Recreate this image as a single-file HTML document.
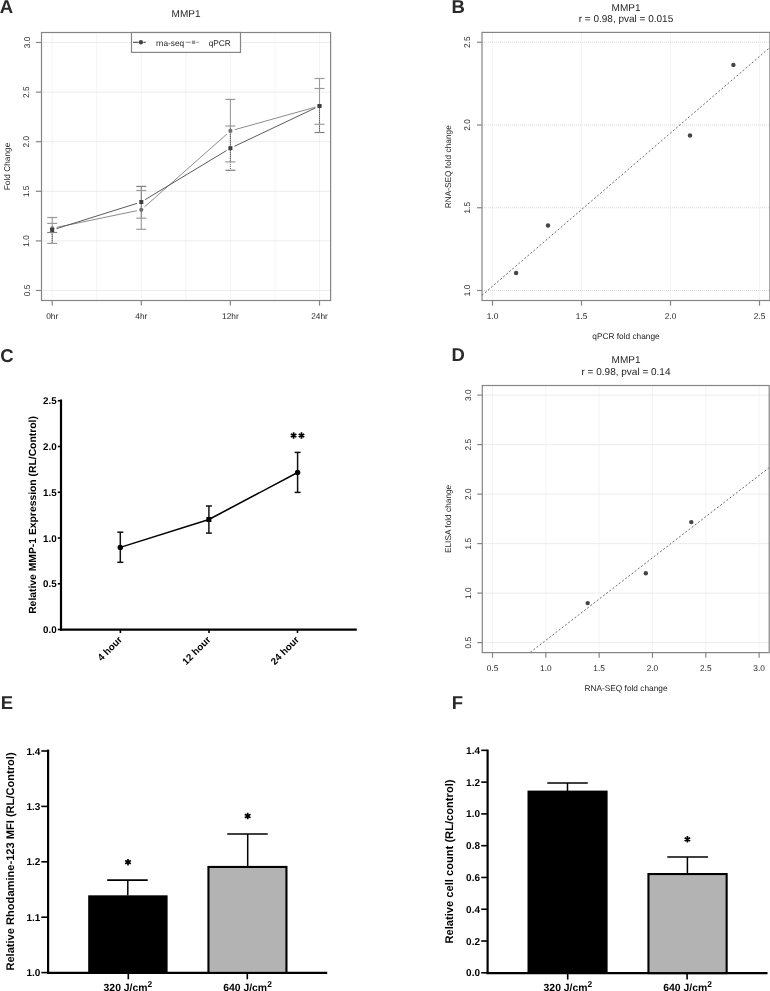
<!DOCTYPE html>
<html><head><meta charset="utf-8"><style>
html,body{margin:0;padding:0;background:#fff;width:770px;height:991px;overflow:hidden}
svg{display:block;will-change:transform}
text{font-family:"Liberation Sans",sans-serif;text-rendering:geometricPrecision}
</style></head><body>
<svg width="770" height="991" viewBox="0 0 770 991" shape-rendering="auto">
<text x="-0.30" y="13.30" font-size="18.5" text-anchor="start" fill="#2a2a2a" font-weight="bold" >A</text>
<text x="451.60" y="13.00" font-size="18.5" text-anchor="start" fill="#2a2a2a" font-weight="bold" >B</text>
<text x="0.20" y="361.50" font-size="18.5" text-anchor="start" fill="#2a2a2a" font-weight="bold" >C</text>
<text x="451.60" y="361.30" font-size="18.5" text-anchor="start" fill="#2a2a2a" font-weight="bold" >D</text>
<text x="0.80" y="709.30" font-size="18.5" text-anchor="start" fill="#2a2a2a" font-weight="bold" >E</text>
<text x="451.80" y="709.30" font-size="18.5" text-anchor="start" fill="#2a2a2a" font-weight="bold" >F</text>
<line x1="52.20" y1="32.50" x2="52.20" y2="300.50" stroke="#e6e6e6" stroke-width="0.9" stroke-dasharray="1 1"/>
<line x1="96.75" y1="32.50" x2="96.75" y2="300.50" stroke="#e6e6e6" stroke-width="0.9" stroke-dasharray="1 1"/>
<line x1="141.30" y1="32.50" x2="141.30" y2="300.50" stroke="#e6e6e6" stroke-width="0.9" stroke-dasharray="1 1"/>
<line x1="185.85" y1="32.50" x2="185.85" y2="300.50" stroke="#e6e6e6" stroke-width="0.9" stroke-dasharray="1 1"/>
<line x1="230.40" y1="32.50" x2="230.40" y2="300.50" stroke="#e6e6e6" stroke-width="0.9" stroke-dasharray="1 1"/>
<line x1="274.95" y1="32.50" x2="274.95" y2="300.50" stroke="#e6e6e6" stroke-width="0.9" stroke-dasharray="1 1"/>
<line x1="319.50" y1="32.50" x2="319.50" y2="300.50" stroke="#e6e6e6" stroke-width="0.9" stroke-dasharray="1 1"/>
<line x1="41.50" y1="290.50" x2="330.60" y2="290.50" stroke="#d6d6d6" stroke-width="0.9" stroke-dasharray="1 1"/>
<line x1="41.50" y1="240.90" x2="330.60" y2="240.90" stroke="#d6d6d6" stroke-width="0.9" stroke-dasharray="1 1"/>
<line x1="41.50" y1="191.30" x2="330.60" y2="191.30" stroke="#d6d6d6" stroke-width="0.9" stroke-dasharray="1 1"/>
<line x1="41.50" y1="141.70" x2="330.60" y2="141.70" stroke="#d6d6d6" stroke-width="0.9" stroke-dasharray="1 1"/>
<line x1="41.50" y1="92.10" x2="330.60" y2="92.10" stroke="#d6d6d6" stroke-width="0.9" stroke-dasharray="1 1"/>
<line x1="41.50" y1="42.50" x2="330.60" y2="42.50" stroke="#d6d6d6" stroke-width="0.9" stroke-dasharray="1 1"/>
<rect x="41.5" y="32.5" width="289.10" height="268.00" fill="none" stroke="#858585" stroke-width="1.2"/>
<line x1="35.80" y1="290.50" x2="41.50" y2="290.50" stroke="#858585" stroke-width="1.2" />
<text x="29.50" y="290.50" font-size="8.3" text-anchor="middle" fill="#1e1e1e" font-weight="normal" transform="rotate(-90 29.50 290.50)" >0.5</text>
<line x1="35.80" y1="240.90" x2="41.50" y2="240.90" stroke="#858585" stroke-width="1.2" />
<text x="29.50" y="240.90" font-size="8.3" text-anchor="middle" fill="#1e1e1e" font-weight="normal" transform="rotate(-90 29.50 240.90)" >1.0</text>
<line x1="35.80" y1="191.30" x2="41.50" y2="191.30" stroke="#858585" stroke-width="1.2" />
<text x="29.50" y="191.30" font-size="8.3" text-anchor="middle" fill="#1e1e1e" font-weight="normal" transform="rotate(-90 29.50 191.30)" >1.5</text>
<line x1="35.80" y1="141.70" x2="41.50" y2="141.70" stroke="#858585" stroke-width="1.2" />
<text x="29.50" y="141.70" font-size="8.3" text-anchor="middle" fill="#1e1e1e" font-weight="normal" transform="rotate(-90 29.50 141.70)" >2.0</text>
<line x1="35.80" y1="92.10" x2="41.50" y2="92.10" stroke="#858585" stroke-width="1.2" />
<text x="29.50" y="92.10" font-size="8.3" text-anchor="middle" fill="#1e1e1e" font-weight="normal" transform="rotate(-90 29.50 92.10)" >2.5</text>
<line x1="35.80" y1="42.50" x2="41.50" y2="42.50" stroke="#858585" stroke-width="1.2" />
<text x="29.50" y="42.50" font-size="8.3" text-anchor="middle" fill="#1e1e1e" font-weight="normal" transform="rotate(-90 29.50 42.50)" >3.0</text>
<line x1="52.20" y1="300.50" x2="52.20" y2="305.60" stroke="#858585" stroke-width="1.2" />
<text x="52.20" y="318.70" font-size="8.3" text-anchor="middle" fill="#1e1e1e" font-weight="normal" >0hr</text>
<line x1="141.30" y1="300.50" x2="141.30" y2="305.60" stroke="#858585" stroke-width="1.2" />
<text x="141.30" y="318.70" font-size="8.3" text-anchor="middle" fill="#1e1e1e" font-weight="normal" >4hr</text>
<line x1="230.40" y1="300.50" x2="230.40" y2="305.60" stroke="#858585" stroke-width="1.2" />
<text x="230.40" y="318.70" font-size="8.3" text-anchor="middle" fill="#1e1e1e" font-weight="normal" >12hr</text>
<line x1="319.50" y1="300.50" x2="319.50" y2="305.60" stroke="#858585" stroke-width="1.2" />
<text x="319.50" y="318.70" font-size="8.3" text-anchor="middle" fill="#1e1e1e" font-weight="normal" >24hr</text>
<text x="186.00" y="16.70" font-size="10" text-anchor="middle" fill="#222" font-weight="normal" >MMP1</text>
<text x="9.80" y="166.50" font-size="8.3" text-anchor="middle" fill="#1e1e1e" font-weight="normal" transform="rotate(-90 9.80 166.50)" >Fold Change</text>
<rect x="131.5" y="32.5" width="109" height="19.9" fill="#fff" stroke="#858585" stroke-width="1.2"/>
<line x1="133.10" y1="42.30" x2="138.40" y2="42.30" stroke="#444" stroke-width="1.1" />
<line x1="143.40" y1="42.30" x2="145.80" y2="42.30" stroke="#444" stroke-width="1.1" />
<circle cx="140.9" cy="42.3" r="2.2" fill="#444"/>
<text x="156.00" y="45.60" font-size="8.3" text-anchor="start" fill="#1e1e1e" font-weight="normal" >rna-seq</text>
<line x1="185.70" y1="42.30" x2="190.80" y2="42.30" stroke="#999" stroke-width="1.1" />
<line x1="196.40" y1="42.30" x2="198.80" y2="42.30" stroke="#999" stroke-width="1.1" />
<rect x="191.9" y="40.6" width="3.4" height="3.4" fill="#999"/>
<text x="208.70" y="45.60" font-size="8.3" text-anchor="start" fill="#1e1e1e" font-weight="normal" >qPCR</text>
<line x1="52.20" y1="217.50" x2="52.20" y2="243.40" stroke="#9a9a9a" stroke-width="1.1" />
<line x1="52.20" y1="230.00" x2="52.20" y2="243.40" stroke="#666" stroke-width="1" stroke-dasharray="1 1"/>
<line x1="47.20" y1="217.50" x2="57.20" y2="217.50" stroke="#9a9a9a" stroke-width="1.2" />
<line x1="47.20" y1="223.40" x2="57.20" y2="223.40" stroke="#9a9a9a" stroke-width="1.2" />
<line x1="47.20" y1="232.50" x2="57.20" y2="232.50" stroke="#808080" stroke-width="1.2" />
<line x1="47.20" y1="243.40" x2="57.20" y2="243.40" stroke="#9a9a9a" stroke-width="1.2" />
<line x1="141.30" y1="186.40" x2="141.30" y2="229.30" stroke="#9a9a9a" stroke-width="1.1" />
<line x1="141.30" y1="186.40" x2="141.30" y2="218.20" stroke="#666" stroke-width="1" stroke-dasharray="1 1"/>
<line x1="136.30" y1="186.40" x2="146.30" y2="186.40" stroke="#808080" stroke-width="1.2" />
<line x1="136.30" y1="190.50" x2="146.30" y2="190.50" stroke="#9a9a9a" stroke-width="1.2" />
<line x1="136.30" y1="218.20" x2="146.30" y2="218.20" stroke="#9a9a9a" stroke-width="1.2" />
<line x1="136.30" y1="229.30" x2="146.30" y2="229.30" stroke="#9a9a9a" stroke-width="1.2" />
<line x1="230.40" y1="99.40" x2="230.40" y2="161.90" stroke="#9a9a9a" stroke-width="1.1" />
<line x1="230.40" y1="126.00" x2="230.40" y2="170.30" stroke="#666" stroke-width="1" stroke-dasharray="1 1"/>
<line x1="225.40" y1="99.40" x2="235.40" y2="99.40" stroke="#9a9a9a" stroke-width="1.2" />
<line x1="225.40" y1="126.00" x2="235.40" y2="126.00" stroke="#9a9a9a" stroke-width="1.2" />
<line x1="225.40" y1="161.90" x2="235.40" y2="161.90" stroke="#9a9a9a" stroke-width="1.2" />
<line x1="225.40" y1="170.30" x2="235.40" y2="170.30" stroke="#808080" stroke-width="1.2" />
<line x1="319.50" y1="78.50" x2="319.50" y2="132.50" stroke="#9a9a9a" stroke-width="1.1" />
<line x1="319.50" y1="106.00" x2="319.50" y2="132.50" stroke="#666" stroke-width="1" stroke-dasharray="1 1"/>
<line x1="314.50" y1="78.50" x2="324.50" y2="78.50" stroke="#9a9a9a" stroke-width="1.2" />
<line x1="314.50" y1="88.50" x2="324.50" y2="88.50" stroke="#9a9a9a" stroke-width="1.2" />
<line x1="314.50" y1="124.30" x2="324.50" y2="124.30" stroke="#9a9a9a" stroke-width="1.2" />
<line x1="314.50" y1="132.50" x2="324.50" y2="132.50" stroke="#808080" stroke-width="1.2" />
<line x1="56.61" y1="227.39" x2="136.89" y2="210.71" stroke="#8c8c8c" stroke-width="1" />
<line x1="56.49" y1="228.65" x2="137.01" y2="203.35" stroke="#5a5a5a" stroke-width="1" />
<line x1="144.67" y1="206.82" x2="227.03" y2="133.88" stroke="#8c8c8c" stroke-width="1" />
<line x1="145.15" y1="199.67" x2="226.55" y2="150.53" stroke="#5a5a5a" stroke-width="1" />
<line x1="234.73" y1="129.69" x2="315.17" y2="107.21" stroke="#8c8c8c" stroke-width="1" />
<line x1="234.47" y1="146.27" x2="315.43" y2="107.93" stroke="#5a5a5a" stroke-width="1" />
<circle cx="52.2" cy="228.3" r="2.1" fill="#6e6e6e"/>
<circle cx="141.3" cy="209.8" r="2.1" fill="#6e6e6e"/>
<circle cx="230.4" cy="130.9" r="2.1" fill="#6e6e6e"/>
<circle cx="319.5" cy="106" r="2.1" fill="#6e6e6e"/>
<rect x="50.20" y="228.00" width="4" height="4" fill="#3e3e3e"/>
<rect x="139.30" y="200.00" width="4" height="4" fill="#3e3e3e"/>
<rect x="228.40" y="146.20" width="4" height="4" fill="#3e3e3e"/>
<rect x="317.50" y="104.00" width="4" height="4" fill="#3e3e3e"/>
<line x1="492.50" y1="32.40" x2="492.50" y2="300.50" stroke="#e6e6e6" stroke-width="0.9" stroke-dasharray="1 1"/>
<line x1="482.00" y1="290.50" x2="769.90" y2="290.50" stroke="#d6d6d6" stroke-width="0.9" stroke-dasharray="1 1"/>
<line x1="581.50" y1="32.40" x2="581.50" y2="300.50" stroke="#e6e6e6" stroke-width="0.9" stroke-dasharray="1 1"/>
<line x1="482.00" y1="207.75" x2="769.90" y2="207.75" stroke="#d6d6d6" stroke-width="0.9" stroke-dasharray="1 1"/>
<line x1="670.50" y1="32.40" x2="670.50" y2="300.50" stroke="#e6e6e6" stroke-width="0.9" stroke-dasharray="1 1"/>
<line x1="482.00" y1="125.00" x2="769.90" y2="125.00" stroke="#d6d6d6" stroke-width="0.9" stroke-dasharray="1 1"/>
<line x1="759.50" y1="32.40" x2="759.50" y2="300.50" stroke="#e6e6e6" stroke-width="0.9" stroke-dasharray="1 1"/>
<line x1="482.00" y1="42.25" x2="769.90" y2="42.25" stroke="#d6d6d6" stroke-width="0.9" stroke-dasharray="1 1"/>
<rect x="482.0" y="32.4" width="287.90" height="268.10" fill="none" stroke="#858585" stroke-width="1.2"/>
<line x1="477.00" y1="290.50" x2="482.00" y2="290.50" stroke="#858585" stroke-width="1.2" />
<text x="470.20" y="290.50" font-size="8.3" text-anchor="middle" fill="#1e1e1e" font-weight="normal" transform="rotate(-90 470.20 290.50)" >1.0</text>
<line x1="492.50" y1="300.50" x2="492.50" y2="305.70" stroke="#858585" stroke-width="1.2" />
<text x="492.50" y="318.70" font-size="8.3" text-anchor="middle" fill="#1e1e1e" font-weight="normal" >1.0</text>
<line x1="477.00" y1="207.75" x2="482.00" y2="207.75" stroke="#858585" stroke-width="1.2" />
<text x="470.20" y="207.75" font-size="8.3" text-anchor="middle" fill="#1e1e1e" font-weight="normal" transform="rotate(-90 470.20 207.75)" >1.5</text>
<line x1="581.50" y1="300.50" x2="581.50" y2="305.70" stroke="#858585" stroke-width="1.2" />
<text x="581.50" y="318.70" font-size="8.3" text-anchor="middle" fill="#1e1e1e" font-weight="normal" >1.5</text>
<line x1="477.00" y1="125.00" x2="482.00" y2="125.00" stroke="#858585" stroke-width="1.2" />
<text x="470.20" y="125.00" font-size="8.3" text-anchor="middle" fill="#1e1e1e" font-weight="normal" transform="rotate(-90 470.20 125.00)" >2.0</text>
<line x1="670.50" y1="300.50" x2="670.50" y2="305.70" stroke="#858585" stroke-width="1.2" />
<text x="670.50" y="318.70" font-size="8.3" text-anchor="middle" fill="#1e1e1e" font-weight="normal" >2.0</text>
<line x1="477.00" y1="42.25" x2="482.00" y2="42.25" stroke="#858585" stroke-width="1.2" />
<text x="470.20" y="42.25" font-size="8.3" text-anchor="middle" fill="#1e1e1e" font-weight="normal" transform="rotate(-90 470.20 42.25)" >2.5</text>
<line x1="759.50" y1="300.50" x2="759.50" y2="305.70" stroke="#858585" stroke-width="1.2" />
<text x="759.50" y="318.70" font-size="8.3" text-anchor="middle" fill="#1e1e1e" font-weight="normal" >2.5</text>
<text x="626.00" y="10.50" font-size="10" text-anchor="middle" fill="#222" font-weight="normal" >MMP1</text>
<text x="626.00" y="22.00" font-size="10" text-anchor="middle" fill="#222" font-weight="normal" >r = 0.98, pval = 0.015</text>
<text x="450.80" y="166.75" font-size="8.3" text-anchor="middle" fill="#1e1e1e" font-weight="normal" transform="rotate(-90 450.80 166.75)" >RNA-SEQ fold change</text>
<text x="626.00" y="339.40" font-size="8.3" text-anchor="middle" fill="#1e1e1e" font-weight="normal" >qPCR fold change</text>
<clipPath id="cb"><rect x="482.0" y="32.4" width="287.9" height="268.1"/></clipPath>
<line x1="482.00" y1="295.30" x2="770.00" y2="47.40" stroke="#6a6a6a" stroke-width="1" stroke-dasharray="2 2" clip-path="url(#cb)"/>
<circle cx="516.1" cy="273" r="2.2" fill="#444"/>
<circle cx="548" cy="225.5" r="2.2" fill="#444"/>
<circle cx="690" cy="135.5" r="2.2" fill="#444"/>
<circle cx="733.4" cy="64.9" r="2.2" fill="#444"/>
<line x1="492.50" y1="385.50" x2="492.50" y2="652.60" stroke="#e6e6e6" stroke-width="0.9" stroke-dasharray="1 1"/>
<line x1="482.30" y1="642.60" x2="769.20" y2="642.60" stroke="#d6d6d6" stroke-width="0.9" stroke-dasharray="1 1"/>
<line x1="545.82" y1="385.50" x2="545.82" y2="652.60" stroke="#e6e6e6" stroke-width="0.9" stroke-dasharray="1 1"/>
<line x1="482.30" y1="593.10" x2="769.20" y2="593.10" stroke="#d6d6d6" stroke-width="0.9" stroke-dasharray="1 1"/>
<line x1="599.14" y1="385.50" x2="599.14" y2="652.60" stroke="#e6e6e6" stroke-width="0.9" stroke-dasharray="1 1"/>
<line x1="482.30" y1="543.60" x2="769.20" y2="543.60" stroke="#d6d6d6" stroke-width="0.9" stroke-dasharray="1 1"/>
<line x1="652.46" y1="385.50" x2="652.46" y2="652.60" stroke="#e6e6e6" stroke-width="0.9" stroke-dasharray="1 1"/>
<line x1="482.30" y1="494.10" x2="769.20" y2="494.10" stroke="#d6d6d6" stroke-width="0.9" stroke-dasharray="1 1"/>
<line x1="705.78" y1="385.50" x2="705.78" y2="652.60" stroke="#e6e6e6" stroke-width="0.9" stroke-dasharray="1 1"/>
<line x1="482.30" y1="444.60" x2="769.20" y2="444.60" stroke="#d6d6d6" stroke-width="0.9" stroke-dasharray="1 1"/>
<line x1="759.10" y1="385.50" x2="759.10" y2="652.60" stroke="#e6e6e6" stroke-width="0.9" stroke-dasharray="1 1"/>
<line x1="482.30" y1="395.10" x2="769.20" y2="395.10" stroke="#d6d6d6" stroke-width="0.9" stroke-dasharray="1 1"/>
<rect x="482.3" y="385.5" width="286.90" height="267.10" fill="none" stroke="#858585" stroke-width="1.2"/>
<line x1="477.30" y1="642.60" x2="482.30" y2="642.60" stroke="#858585" stroke-width="1.2" />
<text x="470.80" y="642.60" font-size="8.3" text-anchor="middle" fill="#1e1e1e" font-weight="normal" transform="rotate(-90 470.80 642.60)" >0.5</text>
<line x1="492.50" y1="652.60" x2="492.50" y2="657.80" stroke="#858585" stroke-width="1.2" />
<text x="492.50" y="670.80" font-size="8.3" text-anchor="middle" fill="#1e1e1e" font-weight="normal" >0.5</text>
<line x1="477.30" y1="593.10" x2="482.30" y2="593.10" stroke="#858585" stroke-width="1.2" />
<text x="470.80" y="593.10" font-size="8.3" text-anchor="middle" fill="#1e1e1e" font-weight="normal" transform="rotate(-90 470.80 593.10)" >1.0</text>
<line x1="545.82" y1="652.60" x2="545.82" y2="657.80" stroke="#858585" stroke-width="1.2" />
<text x="545.82" y="670.80" font-size="8.3" text-anchor="middle" fill="#1e1e1e" font-weight="normal" >1.0</text>
<line x1="477.30" y1="543.60" x2="482.30" y2="543.60" stroke="#858585" stroke-width="1.2" />
<text x="470.80" y="543.60" font-size="8.3" text-anchor="middle" fill="#1e1e1e" font-weight="normal" transform="rotate(-90 470.80 543.60)" >1.5</text>
<line x1="599.14" y1="652.60" x2="599.14" y2="657.80" stroke="#858585" stroke-width="1.2" />
<text x="599.14" y="670.80" font-size="8.3" text-anchor="middle" fill="#1e1e1e" font-weight="normal" >1.5</text>
<line x1="477.30" y1="494.10" x2="482.30" y2="494.10" stroke="#858585" stroke-width="1.2" />
<text x="470.80" y="494.10" font-size="8.3" text-anchor="middle" fill="#1e1e1e" font-weight="normal" transform="rotate(-90 470.80 494.10)" >2.0</text>
<line x1="652.46" y1="652.60" x2="652.46" y2="657.80" stroke="#858585" stroke-width="1.2" />
<text x="652.46" y="670.80" font-size="8.3" text-anchor="middle" fill="#1e1e1e" font-weight="normal" >2.0</text>
<line x1="477.30" y1="444.60" x2="482.30" y2="444.60" stroke="#858585" stroke-width="1.2" />
<text x="470.80" y="444.60" font-size="8.3" text-anchor="middle" fill="#1e1e1e" font-weight="normal" transform="rotate(-90 470.80 444.60)" >2.5</text>
<line x1="705.78" y1="652.60" x2="705.78" y2="657.80" stroke="#858585" stroke-width="1.2" />
<text x="705.78" y="670.80" font-size="8.3" text-anchor="middle" fill="#1e1e1e" font-weight="normal" >2.5</text>
<line x1="477.30" y1="395.10" x2="482.30" y2="395.10" stroke="#858585" stroke-width="1.2" />
<text x="470.80" y="395.10" font-size="8.3" text-anchor="middle" fill="#1e1e1e" font-weight="normal" transform="rotate(-90 470.80 395.10)" >3.0</text>
<line x1="759.10" y1="652.60" x2="759.10" y2="657.80" stroke="#858585" stroke-width="1.2" />
<text x="759.10" y="670.80" font-size="8.3" text-anchor="middle" fill="#1e1e1e" font-weight="normal" >3.0</text>
<text x="626.00" y="363.30" font-size="10" text-anchor="middle" fill="#222" font-weight="normal" >MMP1</text>
<text x="626.00" y="375.30" font-size="10" text-anchor="middle" fill="#222" font-weight="normal" >r = 0.98, pval = 0.14</text>
<text x="451.00" y="518.90" font-size="8.3" text-anchor="middle" fill="#1e1e1e" font-weight="normal" transform="rotate(-90 451.00 518.90)" >ELISA fold change</text>
<text x="626.00" y="691.00" font-size="8.3" text-anchor="middle" fill="#1e1e1e" font-weight="normal" >RNA-SEQ fold change</text>
<clipPath id="cd"><rect x="482.3" y="385.5" width="286.90000000000003" height="267.1"/></clipPath>
<line x1="530.30" y1="652.30" x2="770.00" y2="467.00" stroke="#6a6a6a" stroke-width="1" stroke-dasharray="2 2" clip-path="url(#cd)"/>
<circle cx="587.7" cy="603.1" r="2.2" fill="#444"/>
<circle cx="645.8" cy="573.2" r="2.2" fill="#444"/>
<circle cx="691.3" cy="522.1" r="2.2" fill="#444"/>
<line x1="61.00" y1="399.50" x2="61.00" y2="630.70" stroke="#000" stroke-width="2.2" />
<line x1="59.90" y1="629.70" x2="356.80" y2="629.70" stroke="#000" stroke-width="2.2" />
<line x1="57.80" y1="629.50" x2="61.00" y2="629.50" stroke="#000" stroke-width="1.6" />
<text x="56.60" y="633.00" font-size="9.8" text-anchor="end" fill="#000" font-weight="bold" >0.0</text>
<line x1="57.80" y1="583.75" x2="61.00" y2="583.75" stroke="#000" stroke-width="1.6" />
<text x="56.60" y="587.25" font-size="9.8" text-anchor="end" fill="#000" font-weight="bold" >0.5</text>
<line x1="57.80" y1="538.00" x2="61.00" y2="538.00" stroke="#000" stroke-width="1.6" />
<text x="56.60" y="541.50" font-size="9.8" text-anchor="end" fill="#000" font-weight="bold" >1.0</text>
<line x1="57.80" y1="492.25" x2="61.00" y2="492.25" stroke="#000" stroke-width="1.6" />
<text x="56.60" y="495.75" font-size="9.8" text-anchor="end" fill="#000" font-weight="bold" >1.5</text>
<line x1="57.80" y1="446.50" x2="61.00" y2="446.50" stroke="#000" stroke-width="1.6" />
<text x="56.60" y="450.00" font-size="9.8" text-anchor="end" fill="#000" font-weight="bold" >2.0</text>
<line x1="57.80" y1="400.75" x2="61.00" y2="400.75" stroke="#000" stroke-width="1.6" />
<text x="56.60" y="404.25" font-size="9.8" text-anchor="end" fill="#000" font-weight="bold" >2.5</text>
<line x1="120.40" y1="629.70" x2="120.40" y2="633.00" stroke="#000" stroke-width="1.6" />
<text x="122.60" y="640.40" font-size="9.8" text-anchor="end" fill="#000" font-weight="bold" transform="rotate(-45 122.60 640.40)" >4 hour</text>
<line x1="209.00" y1="629.70" x2="209.00" y2="633.00" stroke="#000" stroke-width="1.6" />
<text x="211.20" y="640.40" font-size="9.8" text-anchor="end" fill="#000" font-weight="bold" transform="rotate(-45 211.20 640.40)" >12 hour</text>
<line x1="297.50" y1="629.70" x2="297.50" y2="633.00" stroke="#000" stroke-width="1.6" />
<text x="299.70" y="640.40" font-size="9.8" text-anchor="end" fill="#000" font-weight="bold" transform="rotate(-45 299.70 640.40)" >24 hour</text>
<text x="36.30" y="515.00" font-size="10.35" text-anchor="middle" fill="#000" font-weight="bold" transform="rotate(-90 36.30 515.00)" >Relative MMP-1 Expression (RL/Control)</text>
<line x1="120.30" y1="532.20" x2="120.30" y2="562.30" stroke="#111" stroke-width="1.5" />
<line x1="117.30" y1="532.20" x2="123.30" y2="532.20" stroke="#111" stroke-width="1.5" />
<line x1="117.30" y1="562.30" x2="123.30" y2="562.30" stroke="#111" stroke-width="1.5" />
<line x1="208.90" y1="506.00" x2="208.90" y2="533.10" stroke="#111" stroke-width="1.5" />
<line x1="205.90" y1="506.00" x2="211.90" y2="506.00" stroke="#111" stroke-width="1.5" />
<line x1="205.90" y1="533.10" x2="211.90" y2="533.10" stroke="#111" stroke-width="1.5" />
<line x1="297.60" y1="452.40" x2="297.60" y2="492.40" stroke="#111" stroke-width="1.5" />
<line x1="294.60" y1="452.40" x2="300.60" y2="452.40" stroke="#111" stroke-width="1.5" />
<line x1="294.60" y1="492.40" x2="300.60" y2="492.40" stroke="#111" stroke-width="1.5" />
<polyline points="120.3,547.4 208.9,519.5 297.6,472.5" fill="none" stroke="#000" stroke-width="1.5"/>
<circle cx="120.3" cy="547.4" r="2.7" fill="#000"/>
<rect x="206.4" y="517" width="5" height="5" fill="#000"/>
<circle cx="297.6" cy="472.5" r="2.7" fill="#000"/>
<path d="M293.60 438.70L293.60 432.30M290.83 437.10L296.37 433.90M296.37 437.10L290.83 433.90" stroke="#000" stroke-width="1.7" fill="none"/>
<path d="M301.50 438.70L301.50 432.30M298.73 437.10L304.27 433.90M304.27 437.10L298.73 433.90" stroke="#000" stroke-width="1.7" fill="none"/>
<line x1="48.10" y1="749.60" x2="48.10" y2="973.90" stroke="#000" stroke-width="2.2" />
<line x1="47.00" y1="972.90" x2="327.20" y2="972.90" stroke="#000" stroke-width="2.2" />
<line x1="41.30" y1="972.60" x2="48.10" y2="972.60" stroke="#000" stroke-width="1.6" />
<text x="40.30" y="976.10" font-size="10" text-anchor="end" fill="#000" font-weight="bold" >1.0</text>
<line x1="41.30" y1="917.20" x2="48.10" y2="917.20" stroke="#000" stroke-width="1.6" />
<text x="40.30" y="920.70" font-size="10" text-anchor="end" fill="#000" font-weight="bold" >1.1</text>
<line x1="41.30" y1="861.80" x2="48.10" y2="861.80" stroke="#000" stroke-width="1.6" />
<text x="40.30" y="865.30" font-size="10" text-anchor="end" fill="#000" font-weight="bold" >1.2</text>
<line x1="41.30" y1="806.40" x2="48.10" y2="806.40" stroke="#000" stroke-width="1.6" />
<text x="40.30" y="809.90" font-size="10" text-anchor="end" fill="#000" font-weight="bold" >1.3</text>
<line x1="41.30" y1="751.00" x2="48.10" y2="751.00" stroke="#000" stroke-width="1.6" />
<text x="40.30" y="754.50" font-size="10" text-anchor="end" fill="#000" font-weight="bold" >1.4</text>
<rect x="88.2" y="895.32" width="79.4" height="77.58" fill="#000"/>
<rect x="208.45" y="866.95" width="78" height="105.95" fill="#b3b3b3" stroke="#000" stroke-width="2.1"/>
<line x1="127.80" y1="880.10" x2="127.80" y2="895.50" stroke="#000" stroke-width="1.5" />
<line x1="107.20" y1="880.10" x2="147.70" y2="880.10" stroke="#000" stroke-width="1.6" />
<line x1="247.70" y1="834.00" x2="247.70" y2="866.50" stroke="#000" stroke-width="1.5" />
<line x1="227.30" y1="834.00" x2="267.70" y2="834.00" stroke="#000" stroke-width="1.6" />
<line x1="128.30" y1="972.90" x2="128.30" y2="979.30" stroke="#000" stroke-width="1.6" />
<line x1="247.30" y1="972.90" x2="247.30" y2="979.30" stroke="#000" stroke-width="1.6" />
<path d="M128.00 865.50L128.00 858.90M125.14 863.85L130.86 860.55M130.86 863.85L125.14 860.55" stroke="#000" stroke-width="1.7" fill="none"/>
<path d="M247.65 819.30L247.65 812.70M244.79 817.65L250.51 814.35M250.51 817.65L244.79 814.35" stroke="#000" stroke-width="1.7" fill="none"/>
<text x="127.90" y="990.60" font-size="10.4" text-anchor="middle" fill="#000" font-weight="bold" >320 J/cm<tspan font-size="8.4" dy="-3.7">2</tspan></text>
<text x="247.50" y="990.60" font-size="10.4" text-anchor="middle" fill="#000" font-weight="bold" >640 J/cm<tspan font-size="8.4" dy="-3.7">2</tspan></text>
<text x="13.80" y="861.50" font-size="11.1" text-anchor="middle" fill="#000" font-weight="bold" transform="rotate(-90 13.80 861.50)" >Relative Rhodamine-123 MFI (RL/Control)</text>
<line x1="487.60" y1="749.60" x2="487.60" y2="974.10" stroke="#000" stroke-width="2.2" />
<line x1="486.50" y1="973.10" x2="767.50" y2="973.10" stroke="#000" stroke-width="2.2" />
<line x1="481.20" y1="972.80" x2="487.60" y2="972.80" stroke="#000" stroke-width="1.6" />
<text x="480.00" y="976.30" font-size="10" text-anchor="end" fill="#000" font-weight="bold" >0.0</text>
<line x1="481.20" y1="941.02" x2="487.60" y2="941.02" stroke="#000" stroke-width="1.6" />
<text x="480.00" y="944.52" font-size="10" text-anchor="end" fill="#000" font-weight="bold" >0.2</text>
<line x1="481.20" y1="909.24" x2="487.60" y2="909.24" stroke="#000" stroke-width="1.6" />
<text x="480.00" y="912.74" font-size="10" text-anchor="end" fill="#000" font-weight="bold" >0.4</text>
<line x1="481.20" y1="877.46" x2="487.60" y2="877.46" stroke="#000" stroke-width="1.6" />
<text x="480.00" y="880.96" font-size="10" text-anchor="end" fill="#000" font-weight="bold" >0.6</text>
<line x1="481.20" y1="845.68" x2="487.60" y2="845.68" stroke="#000" stroke-width="1.6" />
<text x="480.00" y="849.18" font-size="10" text-anchor="end" fill="#000" font-weight="bold" >0.8</text>
<line x1="481.20" y1="813.90" x2="487.60" y2="813.90" stroke="#000" stroke-width="1.6" />
<text x="480.00" y="817.40" font-size="10" text-anchor="end" fill="#000" font-weight="bold" >1.0</text>
<line x1="481.20" y1="782.12" x2="487.60" y2="782.12" stroke="#000" stroke-width="1.6" />
<text x="480.00" y="785.62" font-size="10" text-anchor="end" fill="#000" font-weight="bold" >1.2</text>
<line x1="481.20" y1="750.34" x2="487.60" y2="750.34" stroke="#000" stroke-width="1.6" />
<text x="480.00" y="753.84" font-size="10" text-anchor="end" fill="#000" font-weight="bold" >1.4</text>
<rect x="527.5" y="790.6" width="80.1" height="182.50" fill="#000"/>
<rect x="648.45" y="874.05" width="78.2" height="99.05" fill="#b3b3b3" stroke="#000" stroke-width="2.1"/>
<line x1="567.50" y1="783.00" x2="567.50" y2="791.00" stroke="#000" stroke-width="1.5" />
<line x1="547.30" y1="783.00" x2="587.80" y2="783.00" stroke="#000" stroke-width="1.6" />
<line x1="687.40" y1="857.00" x2="687.40" y2="873.60" stroke="#000" stroke-width="1.5" />
<line x1="667.30" y1="857.00" x2="708.00" y2="857.00" stroke="#000" stroke-width="1.6" />
<line x1="567.70" y1="973.10" x2="567.70" y2="979.60" stroke="#000" stroke-width="1.6" />
<line x1="687.10" y1="973.10" x2="687.10" y2="979.60" stroke="#000" stroke-width="1.6" />
<path d="M687.40 842.50L687.40 836.10M684.63 840.90L690.17 837.70M690.17 840.90L684.63 837.70" stroke="#000" stroke-width="1.7" fill="none"/>
<text x="567.90" y="991.00" font-size="10.4" text-anchor="middle" fill="#000" font-weight="bold" >320 J/cm<tspan font-size="8.4" dy="-3.7">2</tspan></text>
<text x="687.60" y="991.00" font-size="10.4" text-anchor="middle" fill="#000" font-weight="bold" >640 J/cm<tspan font-size="8.4" dy="-3.7">2</tspan></text>
<text x="453.00" y="861.50" font-size="11.15" text-anchor="middle" fill="#000" font-weight="bold" transform="rotate(-90 453.00 861.50)" >Relative cell count (RL/control)</text>
</svg>
</body></html>
